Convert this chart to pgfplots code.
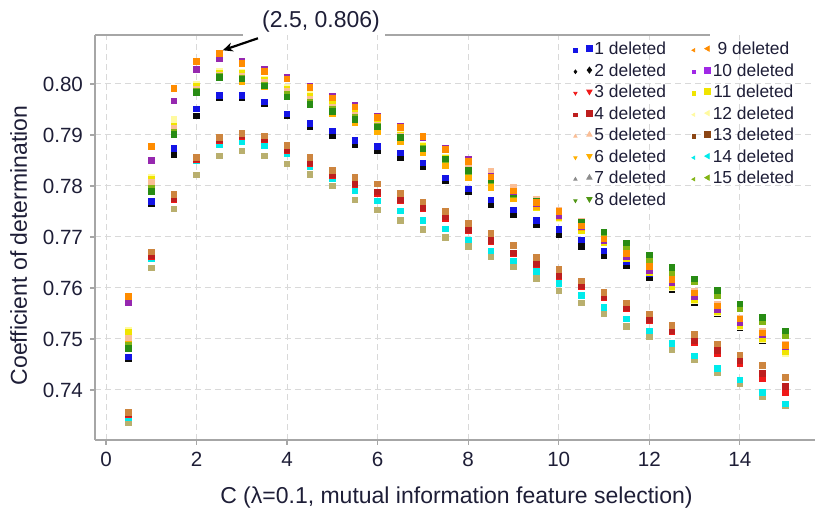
\documentclass[border=0pt]{standalone}
\usepackage{fontspec}
\setmainfont{Liberation Sans}
\usepackage{pgfplots}
\pgfplotsset{compat=1.18}
\usepackage{pgfplotstable}
\usetikzlibrary{arrows.meta}

% point colours
\definecolor{c1}{RGB}{20,20,230}
\definecolor{c2}{RGB}{10,10,10}
\definecolor{c3}{RGB}{240,25,25}
\definecolor{c4}{RGB}{190,30,30}
\definecolor{c5}{RGB}{250,190,150}
\definecolor{c6}{RGB}{255,175,0}
\definecolor{c7}{RGB}{185,175,110}
\definecolor{c8}{RGB}{40,140,20}
\definecolor{c9}{RGB}{255,140,0}
\definecolor{c10}{RGB}{150,40,175}
\definecolor{c11}{RGB}{240,228,0}
\definecolor{c12}{RGB}{255,250,160}
\definecolor{c13}{RGB}{205,133,63}
\definecolor{c14}{RGB}{0,235,235}
\definecolor{c15}{RGB}{130,180,20}
% legend colours
\definecolor{l7}{RGB}{140,140,140}
\definecolor{l8}{RGB}{80,150,20}
\definecolor{l10}{RGB}{160,40,230}
\definecolor{l13}{RGB}{140,70,20}
\definecolor{txt}{RGB}{30,30,55}

\pgfplotstableread{
x    s1    s2    s3    s4    s5    s6    s7    s8    s9    s10   s11   s12   s13   s14   s15
0.5  .7465 .7461 .7351 .7353 .7502 .7493 .7337 .7482 .7584 .7572 .7514 .7518 .7356 .7346 .7487
1    .7770 .7765 .7662 .7664 .7808 .7804 .7639 .7789 .7877 .7850 .7813 .7818 .7671 .7657 .7795
1.5  .7874 .7862 .7773 .7775 .7913 .7910 .7755 .7901 .7991 .7967 .7918 .7931 .7783 .7778 .7905
2    .7951 .7937 .7851 .7853 .7990 .7987 .7822 .7983 .8044 .8029 .7995 .8000 .7856 .7850 .7985
2.5  .7978 .7973 .7889 .7891 .8018 .8016 .7859 .8013 .8060 .8050 .8022 .8025 .7895 .7882 .8015
3    .7977 .7973 .7896 .7898 .8015 .8005 .7869 .8010 .8040 .8045 .8021 .8023 .7903 .7887 .8012
3.5  .7965 .7961 .7891 .7893 .8003 .7995 .7859 .7996 .8025 .8029 .8007 .8010 .7898 .7880 .7998
4    .7941 .7937 .7870 .7872 .7985 .7978 .7843 .7975 .8010 .8014 .7990 .7993 .7880 .7863 .7980
4.5  .7923 .7916 .7844 .7846 .7970 .7962 .7823 .7960 .7993 .7996 .7976 .7979 .7856 .7838 .7965
5    .7908 .7899 .7821 .7823 .7955 .7941 .7800 .7946 .7973 .7976 .7961 .7963 .7831 .7814 .7950
5.5  .7889 .7882 .7803 .7805 .7938 .7924 .7773 .7931 .7955 .7959 .7943 .7946 .7817 .7791 .7935
6    .7877 .7869 .7786 .7788 .7919 .7906 .7753 .7916 .7935 .7937 .7923 .7926 .7804 .7771 .7918
6.5  .7865 .7856 .7772 .7774 .7897 .7887 .7732 .7895 .7915 .7918 .7900 .7903 .7786 .7751 .7896
7    .7845 .7837 .7756 .7758 .7875 .7865 .7715 .7873 .7897 .7895 .7877 .7880 .7769 .7733 .7874
7.5  .7816 .7810 .7737 .7739 .7852 .7839 .7699 .7853 .7872 .7875 .7854 .7857 .7750 .7716 .7851
8    .7794 .7788 .7713 .7715 .7840 .7817 .7681 .7830 .7848 .7852 .7835 .7837 .7727 .7694 .7828
8.5  .7773 .7764 .7691 .7693 .7829 .7797 .7661 .7812 .7818 .7820 .7805 .7808 .7707 .7673 .7810
9    .7753 .7743 .7667 .7669 .7797 .7776 .7641 .7786 .7790 .7788 .7778 .7780 .7684 .7653 .7784
9.5  .7733 .7725 .7645 .7647 .7774 .7760 .7619 .7770 .7768 .7765 .7758 .7758 .7660 .7633 .7768
10   .7715 .7704 .7623 .7625 .7752 .7740 .7594 .7750 .7750 .7742 .7738 .7736 .7636 .7609 .7748
10.5 .7694 .7681 .7602 .7604 .7730 .7718 .7571 .7728 .7722 .7720 .7712 .7712 .7614 .7585 .7726
11   .7673 .7663 .7581 .7583 .7700 .7694 .7549 .7710 .7696 .7692 .7688 .7688 .7591 .7562 .7705
11.5 .7652 .7643 .7559 .7561 .7670 .7666 .7525 .7688 .7668 .7662 .7658 .7658 .7571 .7539 .7680
12   .7628 .7621 .7536 .7538 .7645 .7640 .7504 .7665 .7642 .7634 .7630 .7630 .7549 .7516 .7655
12.5 .7603 .7596 .7515 .7517 .7620 .7614 .7480 .7640 .7617 .7610 .7603 .7601 .7527 .7491 .7630
13   .7578 .7572 .7493 .7497 .7594 .7588 .7459 .7618 .7590 .7583 .7577 .7575 .7509 .7467 .7612
13.5 .7554 .7549 .7472 .7478 .7568 .7562 .7435 .7595 .7565 .7558 .7553 .7552 .7490 .7442 .7586
14   .7528 .7522 .7451 .7457 .7541 .7536 .7413 .7569 .7539 .7532 .7527 .7525 .7469 .7420 .7560
14.5 .7502 .7497 .7423 .7433 .7515 .7510 .7388 .7542 .7512 .7508 .7501 .7499 .7448 .7395 .7534
15   .7478 .7472 .7395 .7407 .7490 .7486 .7369 .7516 .7488 .7485 .7475 .7472 .7425 .7373 .7506
}\rsq

\begin{document}
\begin{tikzpicture}
\begin{axis}[
  name=ax,
  scale only axis,
  width=360pt, height=202.5pt,
  xmin=-0.243, xmax=15.66,
  ymin=0.7302, ymax=0.8096,
  clip=false,
  axis x line*=bottom, axis y line*=left,
  axis line style={-, gray!70, line width=1pt},
  xtick={0,2,...,14},
  ytick={0.74,0.75,0.76,0.77,0.78,0.79,0.80},
  yticklabel style={/pgf/number format/.cd, fixed, fixed zerofill, precision=2},
  /pgf/number format/assume math mode=true,
  tick label style={font=\fontsize{10.3}{12}\selectfont, text=txt},
  tick align=outside, major tick length=2.5pt,
  tick style={gray!70, line width=0.6pt},
  grid=major,
  major grid style={densely dashed, gray!30, line width=0.5pt},
  xlabel={C (λ=0.1, mutual information feature selection)},
  ylabel={Coefficient of determination},
  label style={font=\fontsize{11.5}{13}\selectfont, text=txt},
  xlabel style={at={(axis description cs:0.502,-0.1432)}, anchor=center},
  ylabel style={at={(axis description cs:-0.106,0.48)}, anchor=center},
  every axis plot/.append style={only marks, mark=square*, mark size=1.4pt, forget plot},
  legend columns=2,
  legend style={at={(rel axis cs:0.6642,0.988)}, anchor=north west, draw=none, fill=none,
    font=\fontsize{8.7}{10}\selectfont, text=txt, inner sep=0pt,
    nodes={inner sep=1pt, text height=6.3pt, text depth=1.7pt},
    row sep=0.75pt, column sep=0pt,
    /tikz/every even column/.append style={column sep=12pt}},
  legend image code/.code={%
    \draw[#1, only marks, mark size=0.9pt] plot coordinates {(0pt,0pt)};
    \draw[#1, only marks, mark size=1.5pt] plot coordinates {(7pt,0.8pt)};
  },
]
\addplot[c7]  table[x=x, y=s7]  {\rsq};
\addplot[c14] table[x=x, y=s14] {\rsq};
\addplot[c3]  table[x=x, y=s3]  {\rsq};
\addplot[c4]  table[x=x, y=s4]  {\rsq};
\addplot[c13] table[x=x, y=s13] {\rsq};
\addplot[c2]  table[x=x, y=s2]  {\rsq};
\addplot[c1]  table[x=x, y=s1]  {\rsq};
\addplot[c12] table[x=x, y=s12] {\rsq};
\addplot[c11] table[x=x, y=s11] {\rsq};
\addplot[c6]  table[x=x, y=s6]  {\rsq};
\addplot[c5]  table[x=x, y=s5]  {\rsq};
\addplot[c15] table[x=x, y=s15] {\rsq};
\addplot[c8]  table[x=x, y=s8]  {\rsq};
\addplot[c10] table[x=x, y=s10] {\rsq};
\addplot[c9]  table[x=x, y=s9]  {\rsq};

% legend, ordered so that the two columns read 1-8 and 9-15
\addlegendimage{only marks, mark=square*, c1}\addlegendentry{1 deleted}
\addlegendimage{only marks, mark=triangle*, mark options={rotate=90}, c9}\addlegendentry{9 deleted}
\addlegendimage{only marks, mark=diamond*, c2}\addlegendentry{2 deleted}
\addlegendimage{only marks, mark=square*, l10}\addlegendentry{10 deleted}
\addlegendimage{only marks, mark=triangle*, mark options={rotate=180}, c3}\addlegendentry{3 deleted}
\addlegendimage{only marks, mark=square*, c11}\addlegendentry{11 deleted}
\addlegendimage{only marks, mark=square*, c4}\addlegendentry{4 deleted}
\addlegendimage{only marks, mark=triangle*, mark options={rotate=90}, c12}\addlegendentry{12 deleted}
\addlegendimage{only marks, mark=triangle*, c5}\addlegendentry{5 deleted}
\addlegendimage{only marks, mark=square*, l13}\addlegendentry{13 deleted}
\addlegendimage{only marks, mark=triangle*, mark options={rotate=180}, c6}\addlegendentry{6 deleted}
\addlegendimage{only marks, mark=triangle*, mark options={rotate=90}, c14}\addlegendentry{14 deleted}
\addlegendimage{only marks, mark=triangle*, l7}\addlegendentry{7 deleted}
\addlegendimage{only marks, mark=triangle*, mark options={rotate=90}, c15}\addlegendentry{15 deleted}
\addlegendimage{only marks, mark=triangle*, mark options={rotate=180}, l8}\addlegendentry{8 deleted}

% broken top frame line and the annotation
\draw[gray!70, line width=1pt] (rel axis cs:0,1) -- (rel axis cs:0.2056,1);
\draw[gray!70, line width=1pt] (rel axis cs:0.403,1) -- (rel axis cs:0.854,1);
\node[font=\fontsize{11.5}{13}\selectfont, text=txt] at (axis cs:4.75,0.8122) {(2.5, 0.806)};
\draw[-{Stealth[length=5pt,width=4.5pt]}, line width=1.1pt, black]
  (axis cs:3.357,0.80896) -- (axis cs:2.58,0.8066);
\end{axis}
\pgfresetboundingbox
\path ([xshift=-47.5pt,yshift=-35.5pt]ax.south west) rectangle ([yshift=17.5pt]ax.north east);
\end{tikzpicture}
\end{document}
